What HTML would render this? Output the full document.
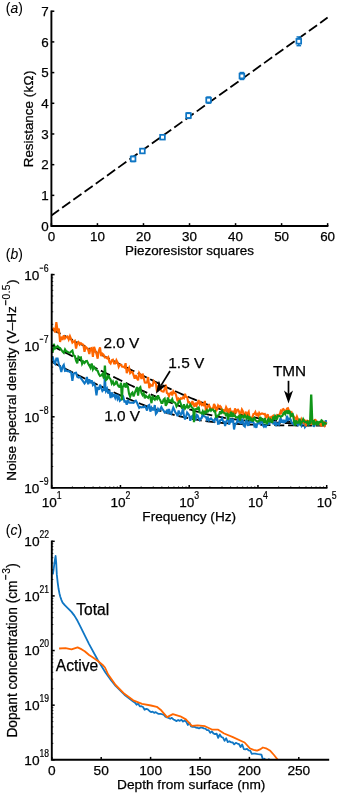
<!DOCTYPE html>
<html><head><meta charset="utf-8"><title>Figure</title>
<style>
html,body{margin:0;padding:0;background:#fff;}
svg{display:block;}
text{font-family:"Liberation Sans",sans-serif;fill:#000;stroke:#000;stroke-width:0.25px;}
svg{will-change:transform;}
</style></head><body>
<svg width="340" height="793" viewBox="0 0 340 793">
<rect width="340" height="793" fill="#fff"/>
<line x1="51.4" y1="215.5" x2="327.6" y2="17.6" stroke="#000" stroke-width="1.8" stroke-dasharray="10 3.8" stroke-dashoffset="0.6"/>
<line x1="133.1" y1="156.25" x2="133.1" y2="161.55" stroke="#0f76c4" stroke-width="1.5"/>
<line x1="130.79999999999998" y1="156.25" x2="135.4" y2="156.25" stroke="#0f76c4" stroke-width="1.5"/>
<line x1="130.79999999999998" y1="161.55" x2="135.4" y2="161.55" stroke="#0f76c4" stroke-width="1.5"/>
<rect x="130.75" y="156.55" width="4.7" height="4.7" fill="#fff" stroke="#0f76c4" stroke-width="1.75"/>
<rect x="140.05" y="148.65" width="4.7" height="4.7" fill="#fff" stroke="#0f76c4" stroke-width="1.75"/>
<rect x="160.15" y="134.85" width="4.7" height="4.7" fill="#fff" stroke="#0f76c4" stroke-width="1.75"/>
<line x1="188.5" y1="112.85" x2="188.5" y2="118.35" stroke="#0f76c4" stroke-width="1.5"/>
<line x1="186.2" y1="112.85" x2="190.8" y2="112.85" stroke="#0f76c4" stroke-width="1.5"/>
<line x1="186.2" y1="118.35" x2="190.8" y2="118.35" stroke="#0f76c4" stroke-width="1.5"/>
<rect x="186.15" y="113.25" width="4.7" height="4.7" fill="#fff" stroke="#0f76c4" stroke-width="1.75"/>
<line x1="208.6" y1="97.05" x2="208.6" y2="103.15" stroke="#0f76c4" stroke-width="1.5"/>
<line x1="206.29999999999998" y1="97.05" x2="210.9" y2="97.05" stroke="#0f76c4" stroke-width="1.5"/>
<line x1="206.29999999999998" y1="103.15" x2="210.9" y2="103.15" stroke="#0f76c4" stroke-width="1.5"/>
<rect x="206.25" y="97.75" width="4.7" height="4.7" fill="#fff" stroke="#0f76c4" stroke-width="1.75"/>
<line x1="241.9" y1="72.55" x2="241.9" y2="79.45" stroke="#0f76c4" stroke-width="1.5"/>
<line x1="239.6" y1="72.55" x2="244.20000000000002" y2="72.55" stroke="#0f76c4" stroke-width="1.5"/>
<line x1="239.6" y1="79.45" x2="244.20000000000002" y2="79.45" stroke="#0f76c4" stroke-width="1.5"/>
<rect x="239.55" y="73.65" width="4.7" height="4.7" fill="#fff" stroke="#0f76c4" stroke-width="1.75"/>
<line x1="298.8" y1="36.95" x2="298.8" y2="45.65" stroke="#0f76c4" stroke-width="1.5"/>
<line x1="296.5" y1="36.95" x2="301.1" y2="36.95" stroke="#0f76c4" stroke-width="1.5"/>
<line x1="296.5" y1="45.65" x2="301.1" y2="45.65" stroke="#0f76c4" stroke-width="1.5"/>
<rect x="296.45" y="38.95" width="4.7" height="4.7" fill="#fff" stroke="#0f76c4" stroke-width="1.75"/>
<path d="M51.4 10.47 V226.05 H328.39" fill="none" stroke="#000" stroke-width="1.9"/>
<line x1="51.4" y1="226.05" x2="54.3" y2="226.05" stroke="#000" stroke-width="1.5"/>
<text x="48.80" y="230.85" font-size="13.4" text-anchor="end" >0</text>
<line x1="51.4" y1="195.36" x2="54.3" y2="195.36" stroke="#000" stroke-width="1.5"/>
<text x="48.80" y="200.16" font-size="13.4" text-anchor="end" >1</text>
<line x1="51.4" y1="164.67" x2="54.3" y2="164.67" stroke="#000" stroke-width="1.5"/>
<text x="48.80" y="169.47" font-size="13.4" text-anchor="end" >2</text>
<line x1="51.4" y1="133.98" x2="54.3" y2="133.98" stroke="#000" stroke-width="1.5"/>
<text x="48.80" y="138.78" font-size="13.4" text-anchor="end" >3</text>
<line x1="51.4" y1="103.29" x2="54.3" y2="103.29" stroke="#000" stroke-width="1.5"/>
<text x="48.80" y="108.09" font-size="13.4" text-anchor="end" >4</text>
<line x1="51.4" y1="72.60" x2="54.3" y2="72.60" stroke="#000" stroke-width="1.5"/>
<text x="48.80" y="77.40" font-size="13.4" text-anchor="end" >5</text>
<line x1="51.4" y1="41.91" x2="54.3" y2="41.91" stroke="#000" stroke-width="1.5"/>
<text x="48.80" y="46.71" font-size="13.4" text-anchor="end" >6</text>
<line x1="51.4" y1="11.22" x2="54.3" y2="11.22" stroke="#000" stroke-width="1.5"/>
<text x="48.80" y="16.02" font-size="13.4" text-anchor="end" >7</text>
<line x1="51.40" y1="226.05" x2="51.40" y2="223.15" stroke="#000" stroke-width="1.5"/>
<text x="51.40" y="241.20" font-size="13.4" text-anchor="middle" >0</text>
<line x1="97.44" y1="226.05" x2="97.44" y2="223.15" stroke="#000" stroke-width="1.5"/>
<text x="97.44" y="241.20" font-size="13.4" text-anchor="middle" >10</text>
<line x1="143.48" y1="226.05" x2="143.48" y2="223.15" stroke="#000" stroke-width="1.5"/>
<text x="143.48" y="241.20" font-size="13.4" text-anchor="middle" >20</text>
<line x1="189.52" y1="226.05" x2="189.52" y2="223.15" stroke="#000" stroke-width="1.5"/>
<text x="189.52" y="241.20" font-size="13.4" text-anchor="middle" >30</text>
<line x1="235.56" y1="226.05" x2="235.56" y2="223.15" stroke="#000" stroke-width="1.5"/>
<text x="235.56" y="241.20" font-size="13.4" text-anchor="middle" >40</text>
<line x1="281.60" y1="226.05" x2="281.60" y2="223.15" stroke="#000" stroke-width="1.5"/>
<text x="281.60" y="241.20" font-size="13.4" text-anchor="middle" >50</text>
<line x1="327.64" y1="226.05" x2="327.64" y2="223.15" stroke="#000" stroke-width="1.5"/>
<text x="327.64" y="241.20" font-size="13.4" text-anchor="middle" >60</text>
<text x="189.50" y="254.60" font-size="13.4" text-anchor="middle" >Piezoresistor squares</text>
<text transform="translate(33.30,118.70) rotate(-90)" font-size="13.4" text-anchor="middle">Resistance <tspan letter-spacing="0.4">(k&#937;)</tspan></text>
<text x="5.80" y="13.00" font-size="13.9" text-anchor="start" style="stroke-width:0.08px">(<tspan font-style="italic">a</tspan>)</text>
<polyline points="51.70,329.23 53.99,330.41 56.28,331.59 58.57,332.77 60.86,333.95 63.15,335.13 65.44,336.31 67.73,337.49 70.02,338.67 72.31,339.85 74.60,341.03 76.89,342.21 79.18,343.39 81.47,344.56 83.76,345.74 86.05,346.92 88.34,348.09 90.63,349.27 92.92,350.44 95.21,351.62 97.50,352.79 99.79,353.96 102.08,355.13 104.37,356.30 106.66,357.47 108.95,358.64 111.24,359.80 113.53,360.97 115.82,362.13 118.11,363.29 120.40,364.45 122.69,365.61 124.98,366.77 127.27,367.92 129.56,369.07 131.85,370.22 134.14,371.37 136.43,372.51 138.72,373.65 141.01,374.79 143.30,375.92 145.59,377.05 147.88,378.18 150.17,379.30 152.46,380.41 154.75,381.52 157.04,382.63 159.33,383.73 161.62,384.82 163.91,385.91 166.20,386.99 168.49,388.06 170.78,389.13 173.07,390.18 175.36,391.23 177.65,392.26 179.94,393.29 182.23,394.31 184.52,395.31 186.81,396.30 189.10,397.28 191.39,398.25 193.68,399.20 195.97,400.14 198.26,401.06 200.55,401.97 202.84,402.86 205.13,403.73 207.42,404.59 209.71,405.43 212.00,406.24 214.29,407.04 216.58,407.82 218.87,408.58 221.16,409.31 223.45,410.02 225.74,410.72 228.03,411.39 230.32,412.03 232.61,412.66 234.90,413.26 237.19,413.84 239.48,414.40 241.77,414.93 244.06,415.44 246.35,415.93 248.64,416.40 250.93,416.85 253.22,417.27 255.51,417.68 257.80,418.06 260.09,418.43 262.38,418.77 264.67,419.10 266.96,419.41 269.25,419.70 271.54,419.98 273.83,420.24 276.12,420.48 278.41,420.71 280.70,420.93 282.99,421.13 285.28,421.32 287.57,421.50 289.86,421.67 292.15,421.82 294.44,421.97 296.73,422.11 299.02,422.23 301.31,422.35 303.60,422.46 305.89,422.57 308.18,422.67 310.47,422.76 312.76,422.84 315.05,422.92 317.34,422.99 319.63,423.06 321.92,423.12 324.21,423.18 326.50,423.23" fill="none" stroke="#000" stroke-width="1.8" stroke-dasharray="10 3.8"/>
<polyline points="51.70,345.60 53.99,346.78 56.28,347.96 58.57,349.13 60.86,350.30 63.15,351.48 65.44,352.65 67.73,353.82 70.02,354.99 72.31,356.16 74.60,357.33 76.89,358.50 79.18,359.67 81.47,360.83 83.76,362.00 86.05,363.16 88.34,364.32 90.63,365.48 92.92,366.63 95.21,367.79 97.50,368.94 99.79,370.09 102.08,371.23 104.37,372.38 106.66,373.52 108.95,374.66 111.24,375.79 113.53,376.92 115.82,378.04 118.11,379.17 120.40,380.28 122.69,381.39 124.98,382.50 127.27,383.60 129.56,384.69 131.85,385.78 134.14,386.86 136.43,387.94 138.72,389.00 141.01,390.06 143.30,391.10 145.59,392.14 147.88,393.17 150.17,394.19 152.46,395.19 154.75,396.19 157.04,397.17 159.33,398.14 161.62,399.09 163.91,400.03 166.20,400.96 168.49,401.86 170.78,402.76 173.07,403.63 175.36,404.49 177.65,405.33 179.94,406.15 182.23,406.95 184.52,407.73 186.81,408.49 189.10,409.22 191.39,409.94 193.68,410.64 195.97,411.31 198.26,411.96 200.55,412.59 202.84,413.19 205.13,413.77 207.42,414.33 209.71,414.87 212.00,415.39 214.29,415.88 216.58,416.35 218.87,416.80 221.16,417.22 223.45,417.63 225.74,418.02 228.03,418.39 230.32,418.73 232.61,419.06 234.90,419.37 237.19,419.67 239.48,419.95 241.77,420.21 244.06,420.45 246.35,420.69 248.64,420.90 250.93,421.11 253.22,421.30 255.51,421.48 257.80,421.65 260.09,421.81 262.38,421.95 264.67,422.09 266.96,422.22 269.25,422.34 271.54,422.45 273.83,422.56 276.12,422.65 278.41,422.75 280.70,422.83 282.99,422.91 285.28,422.98 287.57,423.05 289.86,423.11 292.15,423.17 294.44,423.23 296.73,423.28 299.02,423.33 301.31,423.37 303.60,423.41 305.89,423.45 308.18,423.48 310.47,423.52 312.76,423.55 315.05,423.58 317.34,423.60 319.63,423.63 321.92,423.65 324.21,423.67 326.50,423.69" fill="none" stroke="#000" stroke-width="1.8" stroke-dasharray="10 3.8"/>
<polyline points="51.70,361.88 53.99,363.05 56.28,364.21 58.57,365.37 60.86,366.53 63.15,367.69 65.44,368.84 67.73,370.00 70.02,371.15 72.31,372.30 74.60,373.44 76.89,374.58 79.18,375.72 81.47,376.86 83.76,377.99 86.05,379.12 88.34,380.24 90.63,381.36 92.92,382.48 95.21,383.59 97.50,384.69 99.79,385.79 102.08,386.88 104.37,387.97 106.66,389.05 108.95,390.12 111.24,391.18 113.53,392.23 115.82,393.28 118.11,394.31 120.40,395.34 122.69,396.35 124.98,397.35 127.27,398.34 129.56,399.32 131.85,400.28 134.14,401.23 136.43,402.17 138.72,403.09 141.01,403.99 143.30,404.87 145.59,405.74 147.88,406.59 150.17,407.43 152.46,408.24 154.75,409.03 157.04,409.81 159.33,410.56 161.62,411.29 163.91,412.00 166.20,412.69 168.49,413.35 170.78,413.99 173.07,414.61 175.36,415.21 177.65,415.79 179.94,416.34 182.23,416.87 184.52,417.37 186.81,417.86 189.10,418.32 191.39,418.76 193.68,419.18 195.97,419.58 198.26,419.96 200.55,420.32 202.84,420.67 205.13,420.99 207.42,421.29 209.71,421.58 212.00,421.86 214.29,422.11 216.58,422.35 218.87,422.58 221.16,422.79 223.45,422.99 225.74,423.18 228.03,423.36 230.32,423.52 232.61,423.68 234.90,423.82 237.19,423.95 239.48,424.08 241.77,424.20 244.06,424.31 246.35,424.41 248.64,424.50 250.93,424.59 253.22,424.68 255.51,424.75 257.80,424.82 260.09,424.89 262.38,424.95 264.67,425.01 266.96,425.06 269.25,425.11 271.54,425.16 273.83,425.20 276.12,425.24 278.41,425.28 280.70,425.31 282.99,425.35 285.28,425.38 287.57,425.40 289.86,425.43 292.15,425.45 294.44,425.47 296.73,425.49 299.02,425.51 301.31,425.53 303.60,425.55 305.89,425.56 308.18,425.58 310.47,425.59 312.76,425.60 315.05,425.61 317.34,425.62 319.63,425.63 321.92,425.64 324.21,425.65 326.50,425.66" fill="none" stroke="#000" stroke-width="1.8" stroke-dasharray="10 3.8"/>
<polyline points="52.60,356.51 53.85,361.97 55.10,363.72 56.34,358.47 57.59,358.46 58.83,364.29 60.07,366.86 61.31,371.97 62.55,366.63 63.78,364.84 65.02,370.90 66.25,370.51 67.48,371.27 68.71,371.08 69.93,372.01 71.16,372.38 72.38,380.92 73.60,373.68 74.82,372.99 76.04,372.69 77.26,376.75 78.47,377.56 79.68,376.88 80.89,378.32 82.10,379.90 83.31,381.70 84.51,383.46 85.72,381.71 86.92,376.96 88.12,384.36 89.32,379.30 90.51,383.28 91.71,380.34 92.90,384.86 94.09,383.33 95.28,386.54 96.47,395.31 97.66,386.94 98.84,389.86 100.02,384.67 101.20,387.97 102.38,391.03 103.56,389.58 104.20,389.84 104.75,378.45 105.05,378.45 105.60,389.83 105.91,391.20 107.08,388.85 108.25,393.52 109.42,390.48 110.59,398.03 111.75,392.39 112.92,396.04 114.08,394.82 115.24,397.82 116.40,394.36 117.55,399.03 118.71,396.69 119.86,400.80 121.01,399.70 122.16,399.01 123.31,397.21 124.46,401.70 125.60,401.36 126.75,404.67 127.89,399.88 129.03,402.57 130.17,402.78 131.30,402.54 132.44,402.68 133.57,402.94 134.71,401.32 135.84,400.61 136.96,402.48 138.09,405.26 139.22,407.87 140.34,406.87 141.46,407.38 142.58,407.01 143.70,407.14 144.82,406.20 145.93,407.89 147.05,410.57 148.16,405.66 149.27,405.01 150.38,411.70 151.49,407.76 152.59,409.75 153.69,409.74 154.80,405.12 155.90,413.95 157.00,412.59 158.09,408.97 159.19,410.58 160.29,409.31 161.38,407.13 162.47,409.20 163.56,410.59 164.65,412.57 165.73,411.83 166.82,410.52 167.90,413.80 168.98,409.04 170.06,412.92 171.14,413.89 172.22,410.83 173.29,407.56 174.37,409.85 175.44,412.73 176.51,413.63 177.58,416.21 178.65,410.53 179.71,413.08 180.78,414.79 181.84,413.16 182.90,408.31 183.96,415.81 185.02,419.46 186.08,416.69 187.13,412.54 188.19,413.89 189.24,415.52 190.29,420.84 191.34,416.80 192.38,415.86 193.43,419.30 194.47,415.81 195.52,420.35 196.56,414.85 197.60,415.52 198.64,418.37 199.67,420.12 200.71,418.60 201.74,418.02 202.78,413.52 203.81,416.16 204.84,416.58 205.86,416.95 206.89,419.59 207.91,417.77 208.94,420.41 209.96,419.06 210.98,418.35 212.00,419.51 213.02,420.36 214.03,421.47 215.05,418.77 216.06,419.48 217.07,417.24 218.08,423.78 219.09,423.63 220.10,420.33 221.10,419.84 222.10,418.34 223.11,421.43 224.11,421.61 225.11,425.89 226.11,421.91 227.10,419.86 228.10,416.47 229.09,424.66 230.08,422.21 231.08,418.56 232.06,422.40 233.05,418.79 234.04,429.45 235.02,424.65 236.01,423.63 236.99,422.19 237.97,418.26 238.95,422.50 239.93,419.68 240.90,424.19 241.88,418.67 242.85,421.23 243.83,425.60 244.80,426.50 245.77,420.83 246.73,420.17 247.70,425.09 248.67,425.08 249.63,421.43 250.59,422.07 251.55,422.12 252.51,421.18 253.47,422.24 254.43,426.12 255.38,425.05 256.34,427.80 257.29,423.61 258.24,423.56 259.19,421.94 260.14,423.68 261.09,421.40 262.03,420.53 262.98,425.35 263.92,426.79 264.86,425.61 265.80,426.56 266.74,424.46 267.68,422.58 268.61,424.11 269.55,423.20 270.48,421.75 271.41,420.59 272.34,420.92 273.27,423.64 274.20,423.82 275.13,422.48 276.05,425.89 276.98,423.30 277.90,423.80 278.82,424.70 279.74,420.54 280.66,418.04 281.57,422.76 282.49,419.70 283.40,423.06 284.32,420.92 285.23,421.87 286.14,421.18 287.05,415.77 287.96,420.84 288.86,418.29 289.77,418.42 290.67,419.54 291.57,422.42 292.48,423.34 293.38,424.23 294.27,419.93 295.17,422.28 296.07,419.34 296.96,423.61 297.85,424.98 298.75,422.58 299.64,424.42 300.53,424.40 301.41,425.79 302.30,422.54 303.19,422.53 304.07,422.65 304.95,427.10 305.84,425.92 306.72,423.78 307.59,424.40 308.47,424.20 309.35,424.35 310.22,423.64 311.10,423.42 311.97,421.82 312.84,422.89 313.71,426.85 314.58,424.93 315.45,424.11 316.31,423.63 317.18,424.11 318.04,424.60 318.91,422.90 319.77,424.33 320.63,424.41 321.49,422.73 322.34,422.66 323.20,422.31 324.05,422.21 324.91,425.50 325.76,420.04 326.30,423.55" fill="none" stroke="#0f76c4" stroke-width="2.1" stroke-linejoin="miter" stroke-miterlimit="3"/>
<polyline points="52.60,328.14 53.85,328.82 55.10,332.38 56.34,322.07 57.59,330.62 58.83,328.61 60.07,341.93 61.31,336.68 62.55,340.00 63.78,335.36 65.02,338.47 66.25,337.13 67.48,336.45 68.71,339.50 69.93,336.18 71.16,339.24 72.38,342.71 73.60,341.50 74.82,340.76 76.04,348.47 77.26,343.16 78.47,341.95 79.68,344.54 80.89,343.23 82.10,344.16 83.31,344.80 84.51,351.80 85.72,346.91 86.92,347.87 88.12,349.76 89.32,353.92 90.51,348.46 91.71,347.98 92.90,356.88 94.09,346.94 95.28,350.46 96.47,353.81 97.66,358.70 98.84,350.70 100.02,347.38 101.20,356.15 102.38,353.61 103.56,354.56 104.73,357.38 105.91,357.41 107.08,358.26 108.25,357.04 109.42,362.20 110.59,363.43 111.75,360.27 112.92,359.68 114.08,363.42 115.24,363.42 116.40,360.17 117.55,362.33 118.71,366.88 119.86,364.60 121.01,364.67 122.16,366.71 123.31,366.74 124.46,367.48 125.60,363.23 126.75,373.19 127.89,369.88 129.03,367.79 130.17,373.09 131.30,372.02 132.44,371.91 133.57,375.11 134.71,378.76 135.84,375.10 136.96,378.29 138.09,380.32 139.22,373.04 140.34,374.94 141.46,378.94 142.58,373.60 143.70,377.93 144.82,382.55 145.93,382.71 147.05,382.35 148.16,377.08 149.27,388.22 150.38,384.56 151.49,385.73 152.59,385.72 153.69,381.02 154.80,382.35 155.90,383.53 157.00,391.71 158.09,385.76 159.19,387.81 160.29,388.43 161.38,391.04 162.47,391.51 163.56,391.59 164.65,388.60 165.73,384.65 166.82,392.87 167.90,393.51 168.98,396.18 170.06,393.45 171.14,392.66 172.22,395.45 173.29,391.26 174.37,392.87 175.44,393.35 176.51,396.76 177.58,401.33 178.65,398.65 179.71,399.92 180.78,398.23 181.84,398.72 182.90,397.44 183.96,398.22 185.02,393.72 186.08,396.92 187.13,397.12 188.19,402.28 189.24,402.21 190.29,403.63 191.34,404.89 192.38,401.02 193.43,404.41 194.47,406.76 195.52,402.69 196.56,405.46 197.60,403.00 198.64,400.11 199.67,404.29 200.71,402.54 201.74,404.93 202.78,403.99 203.81,406.05 204.84,400.97 205.86,410.57 206.89,409.30 207.91,405.88 208.94,404.99 209.96,407.30 210.98,409.03 212.00,408.67 213.02,408.80 214.03,403.87 215.05,405.87 216.06,411.37 217.07,409.18 218.08,405.59 219.09,407.17 220.10,406.12 221.10,407.22 222.10,412.09 223.11,409.30 224.11,412.36 225.11,410.55 226.11,407.14 227.10,409.15 228.10,415.59 229.09,409.28 230.08,408.87 231.08,413.90 232.06,411.66 233.05,411.64 234.04,414.94 235.02,408.32 236.01,413.09 236.99,410.19 237.97,409.65 238.95,411.07 239.93,415.36 240.90,412.85 241.88,409.47 242.85,411.11 243.83,416.69 244.80,415.77 245.77,411.52 246.73,418.89 247.70,413.27 248.67,411.69 249.63,418.13 250.59,419.34 251.55,417.79 252.51,416.72 253.47,413.88 254.43,413.73 255.38,412.04 256.34,414.96 257.29,414.03 258.24,415.84 259.19,412.93 260.14,414.55 261.09,413.94 262.03,413.44 262.98,413.65 263.92,414.14 264.86,413.98 265.80,417.61 266.74,416.83 267.68,414.16 268.61,417.89 269.55,417.55 270.48,419.91 271.41,416.70 272.34,416.66 273.27,415.65 274.20,417.08 275.13,417.52 276.05,416.55 276.98,415.27 277.90,416.30 278.82,414.75 279.74,414.33 280.66,411.29 281.57,412.66 282.49,409.54 283.40,409.04 284.32,410.22 285.23,413.29 286.14,410.71 287.05,408.53 287.96,408.08 288.86,410.42 289.77,411.99 290.67,413.16 291.57,412.39 292.48,415.05 293.38,415.90 294.27,417.49 295.17,417.60 296.07,419.55 296.96,416.61 297.85,418.75 298.75,421.99 299.64,419.70 300.53,422.50 301.41,419.23 302.30,420.97 303.19,422.42 304.07,419.88 304.95,420.53 305.84,426.34 306.72,420.71 307.59,420.72 308.47,421.02 309.35,422.16 310.22,422.11 311.10,423.97 311.97,423.68 312.84,421.61 313.71,421.76 314.58,419.94 315.45,419.86 316.31,421.26 317.18,423.89 318.04,422.88 318.91,424.12 319.77,424.42 320.63,422.55 321.49,426.53 322.34,422.04 323.20,421.92 324.05,422.31 324.91,425.07 325.76,422.93 326.30,421.93" fill="none" stroke="#ff6600" stroke-width="2.1" stroke-linejoin="miter" stroke-miterlimit="3"/>
<polyline points="52.60,352.69 53.85,343.85 55.10,348.43 56.34,347.27 57.59,346.02 58.83,347.39 60.07,348.04 61.31,349.73 62.55,351.59 63.78,352.79 65.02,349.36 66.25,351.35 67.48,351.63 68.71,352.77 69.93,352.75 71.16,351.45 72.38,350.56 73.60,355.49 74.82,356.03 76.04,360.76 77.26,363.33 78.47,356.75 79.68,357.71 80.89,357.40 82.10,363.91 83.31,361.68 84.51,363.09 85.72,361.12 86.92,360.92 88.12,363.54 89.32,365.61 90.51,367.92 91.71,363.54 92.90,369.32 94.09,367.05 95.28,368.81 96.47,370.19 97.66,370.80 98.84,374.00 100.02,375.96 101.20,375.42 102.38,373.99 103.56,377.35 104.20,376.59 104.75,366.43 105.05,366.43 105.60,377.17 105.91,380.07 107.08,379.21 108.25,375.02 109.42,377.91 110.59,379.50 111.75,383.56 112.92,381.52 114.08,384.86 115.24,383.95 116.40,380.85 117.55,384.65 118.71,386.60 119.86,386.89 121.01,382.79 121.20,386.96 121.75,399.22 122.05,399.22 122.60,386.84 123.31,386.38 124.46,383.22 125.60,387.61 126.75,384.51 127.89,386.66 129.03,393.82 130.17,396.75 131.30,393.66 132.44,392.50 133.57,396.51 134.71,393.06 135.84,390.21 136.96,386.99 138.09,395.63 139.22,388.29 140.34,387.21 141.46,392.99 142.58,395.14 143.70,393.28 144.82,398.29 145.93,395.87 147.05,396.90 148.16,397.78 149.27,395.60 150.38,397.82 151.49,403.22 152.59,395.68 153.69,398.63 154.80,399.80 155.90,397.55 157.00,399.03 158.09,395.37 159.19,398.72 160.29,400.16 161.38,403.00 162.47,402.90 163.56,399.60 164.65,398.65 165.73,405.84 166.82,403.87 167.90,397.55 168.98,401.48 170.06,400.41 171.14,401.35 172.22,399.02 173.29,402.28 174.37,402.31 175.44,403.20 176.51,406.40 177.58,404.76 178.65,401.68 179.71,400.74 180.78,403.76 181.84,407.85 182.90,407.61 183.96,404.36 185.02,408.59 186.08,407.17 187.13,405.06 188.19,407.68 189.24,406.79 190.29,404.72 191.34,406.53 192.38,408.14 193.30,408.49 193.85,421.28 194.15,421.28 194.70,409.90 195.52,409.11 196.56,408.89 197.60,409.00 198.64,406.66 199.67,412.43 200.71,412.72 201.74,413.56 202.78,411.24 203.81,413.65 204.84,411.76 205.86,412.95 206.89,410.21 207.91,411.61 208.94,410.59 209.96,409.18 210.98,410.71 212.00,409.40 213.02,409.60 214.03,411.35 215.05,411.07 216.06,417.00 217.07,416.54 218.08,415.23 219.09,414.78 220.10,411.42 221.10,414.02 222.10,410.52 223.11,412.43 224.11,412.91 225.11,413.32 226.11,416.09 227.10,412.77 228.10,419.68 229.09,413.69 230.08,416.72 231.08,411.79 232.06,417.17 233.05,412.86 234.04,416.01 235.02,415.75 236.01,417.63 236.99,417.35 237.97,417.06 238.95,416.11 239.93,420.61 240.90,415.80 241.88,416.89 242.85,416.01 243.83,417.36 244.80,415.23 245.77,416.46 246.73,418.44 247.70,416.35 248.67,418.57 249.63,416.57 250.59,420.72 251.55,417.70 252.51,421.60 253.47,419.18 254.43,418.03 255.38,420.30 256.34,420.83 257.29,421.65 258.24,421.49 259.19,420.61 260.14,416.64 261.09,420.89 262.03,418.99 262.98,420.02 263.92,421.77 264.86,417.96 265.80,422.01 266.74,424.13 267.68,420.59 268.61,418.94 269.55,422.22 270.48,419.91 271.41,421.55 272.34,421.86 273.27,416.45 274.20,419.80 275.13,416.05 276.05,417.33 276.98,419.47 277.90,415.62 278.82,416.03 279.74,415.97 280.66,416.82 281.57,416.26 282.49,415.80 283.40,413.41 284.32,412.39 285.23,414.08 286.14,411.32 287.05,411.19 287.96,413.89 288.86,411.21 289.77,411.60 290.67,416.41 291.57,415.60 292.48,413.02 293.38,417.05 294.27,423.08 295.17,425.52 296.07,420.40 296.96,422.61 297.85,422.93 298.75,422.33 299.64,418.60 300.53,423.75 301.41,422.51 302.30,421.64 303.19,419.23 304.07,421.04 304.95,422.02 305.84,421.82 306.72,422.72 307.59,421.69 308.47,424.18 309.35,422.61 310.00,422.87 311.05,395.64 311.35,395.64 312.40,423.61 312.84,420.18 313.71,425.15 314.58,421.83 315.45,423.24 316.31,423.91 317.18,420.96 318.04,425.11 318.91,422.65 319.77,421.84 320.63,421.92 321.49,420.27 322.34,420.89 323.20,425.79 324.05,423.08 324.91,422.87 325.76,423.73 326.30,424.40" fill="none" stroke="#109618" stroke-width="2.1" stroke-linejoin="miter" stroke-miterlimit="3"/>
<path d="M51.7 273.85 V487.9 H327.45" fill="none" stroke="#000" stroke-width="1.9"/>
<line x1="51.7" y1="274.60" x2="54.6" y2="274.60" stroke="#000" stroke-width="1.5"/>
<text x="24.22" y="279.50" font-size="13.6" text-anchor="start" >10</text>
<rect x="39.64" y="267.65" width="3.6" height="1.05" fill="#000"/>
<text transform="translate(43.74,271.60) scale(0.84,1)" font-size="10.4" text-anchor="start" style="stroke-width:0.22px">6</text>
<line x1="51.7" y1="324.30" x2="53.25" y2="324.30" stroke="#000" stroke-width="0.8"/>
<line x1="51.7" y1="311.78" x2="53.25" y2="311.78" stroke="#000" stroke-width="0.8"/>
<line x1="51.7" y1="302.89" x2="53.25" y2="302.89" stroke="#000" stroke-width="0.8"/>
<line x1="51.7" y1="296.00" x2="53.25" y2="296.00" stroke="#000" stroke-width="0.8"/>
<line x1="51.7" y1="290.37" x2="53.25" y2="290.37" stroke="#000" stroke-width="0.8"/>
<line x1="51.7" y1="285.61" x2="53.25" y2="285.61" stroke="#000" stroke-width="0.8"/>
<line x1="51.7" y1="281.49" x2="53.25" y2="281.49" stroke="#000" stroke-width="0.8"/>
<line x1="51.7" y1="277.85" x2="53.25" y2="277.85" stroke="#000" stroke-width="0.8"/>
<line x1="51.7" y1="345.70" x2="54.6" y2="345.70" stroke="#000" stroke-width="1.5"/>
<text x="24.22" y="350.60" font-size="13.6" text-anchor="start" >10</text>
<rect x="39.64" y="338.75" width="3.6" height="1.05" fill="#000"/>
<text transform="translate(43.74,342.70) scale(0.84,1)" font-size="10.4" text-anchor="start" style="stroke-width:0.22px">7</text>
<line x1="51.7" y1="395.40" x2="53.25" y2="395.40" stroke="#000" stroke-width="0.8"/>
<line x1="51.7" y1="382.88" x2="53.25" y2="382.88" stroke="#000" stroke-width="0.8"/>
<line x1="51.7" y1="373.99" x2="53.25" y2="373.99" stroke="#000" stroke-width="0.8"/>
<line x1="51.7" y1="367.10" x2="53.25" y2="367.10" stroke="#000" stroke-width="0.8"/>
<line x1="51.7" y1="361.47" x2="53.25" y2="361.47" stroke="#000" stroke-width="0.8"/>
<line x1="51.7" y1="356.71" x2="53.25" y2="356.71" stroke="#000" stroke-width="0.8"/>
<line x1="51.7" y1="352.59" x2="53.25" y2="352.59" stroke="#000" stroke-width="0.8"/>
<line x1="51.7" y1="348.95" x2="53.25" y2="348.95" stroke="#000" stroke-width="0.8"/>
<line x1="51.7" y1="416.80" x2="54.6" y2="416.80" stroke="#000" stroke-width="1.5"/>
<text x="24.22" y="421.70" font-size="13.6" text-anchor="start" >10</text>
<rect x="39.64" y="409.85" width="3.6" height="1.05" fill="#000"/>
<text transform="translate(43.74,413.80) scale(0.84,1)" font-size="10.4" text-anchor="start" style="stroke-width:0.22px">8</text>
<line x1="51.7" y1="466.50" x2="53.25" y2="466.50" stroke="#000" stroke-width="0.8"/>
<line x1="51.7" y1="453.98" x2="53.25" y2="453.98" stroke="#000" stroke-width="0.8"/>
<line x1="51.7" y1="445.09" x2="53.25" y2="445.09" stroke="#000" stroke-width="0.8"/>
<line x1="51.7" y1="438.20" x2="53.25" y2="438.20" stroke="#000" stroke-width="0.8"/>
<line x1="51.7" y1="432.57" x2="53.25" y2="432.57" stroke="#000" stroke-width="0.8"/>
<line x1="51.7" y1="427.81" x2="53.25" y2="427.81" stroke="#000" stroke-width="0.8"/>
<line x1="51.7" y1="423.69" x2="53.25" y2="423.69" stroke="#000" stroke-width="0.8"/>
<line x1="51.7" y1="420.05" x2="53.25" y2="420.05" stroke="#000" stroke-width="0.8"/>
<line x1="51.7" y1="487.90" x2="54.6" y2="487.90" stroke="#000" stroke-width="1.5"/>
<text x="24.22" y="492.80" font-size="13.6" text-anchor="start" >10</text>
<rect x="39.64" y="480.95" width="3.6" height="1.05" fill="#000"/>
<text transform="translate(43.74,484.90) scale(0.84,1)" font-size="10.4" text-anchor="start" style="stroke-width:0.22px">9</text>
<line x1="51.70" y1="487.9" x2="51.70" y2="485.0" stroke="#000" stroke-width="1.5"/>
<text x="41.76" y="507.30" font-size="13.6" text-anchor="start" >10</text>
<text transform="translate(56.78,499.40) scale(0.84,1)" font-size="10.4" text-anchor="start" style="stroke-width:0.22px">1</text>
<line x1="72.40" y1="487.9" x2="72.40" y2="486.34999999999997" stroke="#000" stroke-width="0.8"/>
<line x1="84.50" y1="487.9" x2="84.50" y2="486.34999999999997" stroke="#000" stroke-width="0.8"/>
<line x1="93.09" y1="487.9" x2="93.09" y2="486.34999999999997" stroke="#000" stroke-width="0.8"/>
<line x1="99.75" y1="487.9" x2="99.75" y2="486.34999999999997" stroke="#000" stroke-width="0.8"/>
<line x1="105.20" y1="487.9" x2="105.20" y2="486.34999999999997" stroke="#000" stroke-width="0.8"/>
<line x1="109.80" y1="487.9" x2="109.80" y2="486.34999999999997" stroke="#000" stroke-width="0.8"/>
<line x1="113.79" y1="487.9" x2="113.79" y2="486.34999999999997" stroke="#000" stroke-width="0.8"/>
<line x1="117.30" y1="487.9" x2="117.30" y2="486.34999999999997" stroke="#000" stroke-width="0.8"/>
<line x1="120.45" y1="487.9" x2="120.45" y2="485.0" stroke="#000" stroke-width="1.5"/>
<text x="110.51" y="507.30" font-size="13.6" text-anchor="start" >10</text>
<text transform="translate(125.53,499.40) scale(0.84,1)" font-size="10.4" text-anchor="start" style="stroke-width:0.22px">2</text>
<line x1="141.15" y1="487.9" x2="141.15" y2="486.34999999999997" stroke="#000" stroke-width="0.8"/>
<line x1="153.25" y1="487.9" x2="153.25" y2="486.34999999999997" stroke="#000" stroke-width="0.8"/>
<line x1="161.84" y1="487.9" x2="161.84" y2="486.34999999999997" stroke="#000" stroke-width="0.8"/>
<line x1="168.50" y1="487.9" x2="168.50" y2="486.34999999999997" stroke="#000" stroke-width="0.8"/>
<line x1="173.95" y1="487.9" x2="173.95" y2="486.34999999999997" stroke="#000" stroke-width="0.8"/>
<line x1="178.55" y1="487.9" x2="178.55" y2="486.34999999999997" stroke="#000" stroke-width="0.8"/>
<line x1="182.54" y1="487.9" x2="182.54" y2="486.34999999999997" stroke="#000" stroke-width="0.8"/>
<line x1="186.05" y1="487.9" x2="186.05" y2="486.34999999999997" stroke="#000" stroke-width="0.8"/>
<line x1="189.20" y1="487.9" x2="189.20" y2="485.0" stroke="#000" stroke-width="1.5"/>
<text x="179.26" y="507.30" font-size="13.6" text-anchor="start" >10</text>
<text transform="translate(194.28,499.40) scale(0.84,1)" font-size="10.4" text-anchor="start" style="stroke-width:0.22px">3</text>
<line x1="209.90" y1="487.9" x2="209.90" y2="486.34999999999997" stroke="#000" stroke-width="0.8"/>
<line x1="222.00" y1="487.9" x2="222.00" y2="486.34999999999997" stroke="#000" stroke-width="0.8"/>
<line x1="230.59" y1="487.9" x2="230.59" y2="486.34999999999997" stroke="#000" stroke-width="0.8"/>
<line x1="237.25" y1="487.9" x2="237.25" y2="486.34999999999997" stroke="#000" stroke-width="0.8"/>
<line x1="242.70" y1="487.9" x2="242.70" y2="486.34999999999997" stroke="#000" stroke-width="0.8"/>
<line x1="247.30" y1="487.9" x2="247.30" y2="486.34999999999997" stroke="#000" stroke-width="0.8"/>
<line x1="251.29" y1="487.9" x2="251.29" y2="486.34999999999997" stroke="#000" stroke-width="0.8"/>
<line x1="254.80" y1="487.9" x2="254.80" y2="486.34999999999997" stroke="#000" stroke-width="0.8"/>
<line x1="257.95" y1="487.9" x2="257.95" y2="485.0" stroke="#000" stroke-width="1.5"/>
<text x="248.01" y="507.30" font-size="13.6" text-anchor="start" >10</text>
<text transform="translate(263.03,499.40) scale(0.84,1)" font-size="10.4" text-anchor="start" style="stroke-width:0.22px">4</text>
<line x1="278.65" y1="487.9" x2="278.65" y2="486.34999999999997" stroke="#000" stroke-width="0.8"/>
<line x1="290.75" y1="487.9" x2="290.75" y2="486.34999999999997" stroke="#000" stroke-width="0.8"/>
<line x1="299.34" y1="487.9" x2="299.34" y2="486.34999999999997" stroke="#000" stroke-width="0.8"/>
<line x1="306.00" y1="487.9" x2="306.00" y2="486.34999999999997" stroke="#000" stroke-width="0.8"/>
<line x1="311.45" y1="487.9" x2="311.45" y2="486.34999999999997" stroke="#000" stroke-width="0.8"/>
<line x1="316.05" y1="487.9" x2="316.05" y2="486.34999999999997" stroke="#000" stroke-width="0.8"/>
<line x1="320.04" y1="487.9" x2="320.04" y2="486.34999999999997" stroke="#000" stroke-width="0.8"/>
<line x1="323.55" y1="487.9" x2="323.55" y2="486.34999999999997" stroke="#000" stroke-width="0.8"/>
<line x1="326.70" y1="487.9" x2="326.70" y2="485.0" stroke="#000" stroke-width="1.5"/>
<text x="316.76" y="507.30" font-size="13.6" text-anchor="start" >10</text>
<text transform="translate(331.78,499.40) scale(0.84,1)" font-size="10.4" text-anchor="start" style="stroke-width:0.22px">5</text>
<text x="189.20" y="521.20" font-size="13.6" text-anchor="middle" >Frequency (Hz)</text>
<text transform="translate(16.30,380.10) rotate(-90)" font-size="13.6" text-anchor="middle">Noise spectral density (V&#8211;Hz<tspan stroke-width="0.45" font-size="9.27" dy="-7.60" dx="0.6">&#8722;</tspan><tspan stroke-width="0.12" font-size="10.3" dy="1.2" dx="0.6" letter-spacing="0.3">0.5</tspan><tspan dy="6.4" dx="0.2">)</tspan></text>
<text x="5.80" y="259.30" font-size="13.9" text-anchor="start" style="stroke-width:0.08px">(<tspan font-style="italic">b</tspan>)</text>
<text x="103.40" y="347.60" font-size="15.4" text-anchor="start" >2.0 V</text>
<text x="168.30" y="367.50" font-size="15.4" text-anchor="start" >1.5 V</text>
<text x="104.20" y="421.20" font-size="15.4" text-anchor="start" >1.0 V</text>
<text x="273.00" y="375.90" font-size="15.3" text-anchor="start" >TMN</text>
<line x1="170.00" y1="371.00" x2="160.95" y2="385.64" stroke="#000" stroke-width="1.7"/>
<path d="M155.90 393.80 L158.91 380.38 L160.95 385.64 L166.56 385.11 Z" fill="#000"/>
<line x1="288.50" y1="380.80" x2="288.50" y2="393.90" stroke="#000" stroke-width="1.7"/>
<path d="M288.50 403.50 L284.00 390.50 L288.50 393.90 L293.00 390.50 Z" fill="#000"/>
<clipPath id="cc"><rect x="51.8" y="536.3" width="280" height="223.70"/></clipPath>
<g clip-path="url(#cc)"><polyline points="52.90,574.40 54.20,565.00 55.00,559.50 55.60,556.00 56.20,562.60 56.80,574.40 57.70,582.60 58.50,588.50 59.40,593.20 60.30,596.80 61.50,600.10 62.60,602.60 65.00,605.40 68.50,608.80 71.50,611.90 74.40,615.60 77.50,620.80 80.30,626.30 84.50,634.80 89.10,644.10 97.90,660.30 105.30,672.30 111.20,680.50 115.60,685.90 124.40,694.70 133.20,701.50 135.00,702.67 136.60,704.74 138.20,703.63 139.80,706.42 141.40,706.19 143.00,707.01 144.60,709.80 146.20,708.88 147.80,709.43 149.40,710.90 151.00,712.01 152.60,711.60 154.20,712.88 155.80,712.09 157.40,713.36 159.00,713.98 160.60,713.79 162.20,714.26 163.80,714.79 165.40,716.74 167.00,717.44 168.60,717.92 170.20,718.72 171.80,717.82 173.40,719.45 175.00,720.18 176.60,721.10 178.20,720.01 179.80,720.87 181.40,719.77 183.00,721.64 184.60,720.46 186.20,721.71 187.80,724.96 189.40,722.68 191.00,726.38 192.60,726.79 194.20,726.61 195.80,727.52 197.40,727.76 199.00,728.42 200.60,727.38 202.20,727.69 203.80,728.33 205.40,728.63 207.00,730.18 208.60,730.13 210.20,732.85 211.80,731.33 213.40,733.34 215.00,734.18 216.60,733.62 218.20,737.93 219.80,734.36 221.40,736.95 223.00,737.69 224.60,740.72 226.20,738.23 227.80,742.10 229.40,741.15 231.00,742.31 232.60,742.44 234.20,744.30 235.80,742.79 237.40,743.54 239.00,744.02 240.60,746.95 242.20,744.43 243.80,749.06 245.40,749.32 247.00,748.77 248.60,750.33 250.20,750.55 251.80,753.81 253.40,753.70 255.00,753.64 256.60,753.98 258.20,754.17 259.80,754.28 261.40,754.64 263.00,759.68 264.60,758.74 265.30,762.00" fill="none" stroke="#0f76c4" stroke-width="1.8" stroke-linejoin="round"/>
<circle cx="268.9" cy="759.2" r="0.9" fill="#0f76c4"/>
<polyline points="59.10,648.50 65.60,648.20 71.50,649.40 77.60,647.40 81.80,649.40 84.70,651.20 89.10,655.00 92.60,657.30 97.90,661.00 102.40,664.70 105.00,667.50 108.20,674.50 115.60,685.00 124.40,693.80 133.20,700.30 142.10,703.80 150.90,705.50 156.80,706.80 161.20,710.30 167.10,717.10 172.90,714.10 180.30,716.30 185.90,719.40 191.80,725.90 197.60,725.30 205.00,726.20 212.40,729.70 218.20,729.70 224.10,733.50 232.90,737.10 241.80,741.20 244.60,742.50 249.70,748.20 253.50,749.90 257.10,750.60 260.00,749.40 262.90,747.50 266.00,748.30 270.30,750.80 274.00,755.00 277.80,759.80 279.20,762.00" fill="none" stroke="#ff6600" stroke-width="1.8" stroke-linejoin="round"/></g>
<path d="M51.8 540.55 V759.8 H329.19" fill="none" stroke="#000" stroke-width="1.9"/>
<line x1="51.8" y1="541.30" x2="54.699999999999996" y2="541.30" stroke="#000" stroke-width="1.5"/>
<text x="24.34" y="546.00" font-size="13.7" text-anchor="start" >10</text>
<text transform="translate(39.47,538.10) scale(0.84,1)" font-size="10.2" text-anchor="start" style="stroke-width:0.22px">22</text>
<line x1="51.8" y1="579.48" x2="53.349999999999994" y2="579.48" stroke="#000" stroke-width="0.8"/>
<line x1="51.8" y1="569.86" x2="53.349999999999994" y2="569.86" stroke="#000" stroke-width="0.8"/>
<line x1="51.8" y1="563.04" x2="53.349999999999994" y2="563.04" stroke="#000" stroke-width="0.8"/>
<line x1="51.8" y1="557.74" x2="53.349999999999994" y2="557.74" stroke="#000" stroke-width="0.8"/>
<line x1="51.8" y1="553.42" x2="53.349999999999994" y2="553.42" stroke="#000" stroke-width="0.8"/>
<line x1="51.8" y1="549.76" x2="53.349999999999994" y2="549.76" stroke="#000" stroke-width="0.8"/>
<line x1="51.8" y1="546.59" x2="53.349999999999994" y2="546.59" stroke="#000" stroke-width="0.8"/>
<line x1="51.8" y1="543.80" x2="53.349999999999994" y2="543.80" stroke="#000" stroke-width="0.8"/>
<line x1="51.8" y1="595.92" x2="54.699999999999996" y2="595.92" stroke="#000" stroke-width="1.5"/>
<text x="24.34" y="600.62" font-size="13.7" text-anchor="start" >10</text>
<text transform="translate(39.47,592.73) scale(0.84,1)" font-size="10.2" text-anchor="start" style="stroke-width:0.22px">21</text>
<line x1="51.8" y1="634.11" x2="53.349999999999994" y2="634.11" stroke="#000" stroke-width="0.8"/>
<line x1="51.8" y1="624.49" x2="53.349999999999994" y2="624.49" stroke="#000" stroke-width="0.8"/>
<line x1="51.8" y1="617.66" x2="53.349999999999994" y2="617.66" stroke="#000" stroke-width="0.8"/>
<line x1="51.8" y1="612.37" x2="53.349999999999994" y2="612.37" stroke="#000" stroke-width="0.8"/>
<line x1="51.8" y1="608.04" x2="53.349999999999994" y2="608.04" stroke="#000" stroke-width="0.8"/>
<line x1="51.8" y1="604.39" x2="53.349999999999994" y2="604.39" stroke="#000" stroke-width="0.8"/>
<line x1="51.8" y1="601.22" x2="53.349999999999994" y2="601.22" stroke="#000" stroke-width="0.8"/>
<line x1="51.8" y1="598.42" x2="53.349999999999994" y2="598.42" stroke="#000" stroke-width="0.8"/>
<line x1="51.8" y1="650.55" x2="54.699999999999996" y2="650.55" stroke="#000" stroke-width="1.5"/>
<text x="24.34" y="655.25" font-size="13.7" text-anchor="start" >10</text>
<text transform="translate(39.47,647.35) scale(0.84,1)" font-size="10.2" text-anchor="start" style="stroke-width:0.22px">20</text>
<line x1="51.8" y1="688.73" x2="53.349999999999994" y2="688.73" stroke="#000" stroke-width="0.8"/>
<line x1="51.8" y1="679.11" x2="53.349999999999994" y2="679.11" stroke="#000" stroke-width="0.8"/>
<line x1="51.8" y1="672.29" x2="53.349999999999994" y2="672.29" stroke="#000" stroke-width="0.8"/>
<line x1="51.8" y1="666.99" x2="53.349999999999994" y2="666.99" stroke="#000" stroke-width="0.8"/>
<line x1="51.8" y1="662.67" x2="53.349999999999994" y2="662.67" stroke="#000" stroke-width="0.8"/>
<line x1="51.8" y1="659.01" x2="53.349999999999994" y2="659.01" stroke="#000" stroke-width="0.8"/>
<line x1="51.8" y1="655.84" x2="53.349999999999994" y2="655.84" stroke="#000" stroke-width="0.8"/>
<line x1="51.8" y1="653.05" x2="53.349999999999994" y2="653.05" stroke="#000" stroke-width="0.8"/>
<line x1="51.8" y1="705.17" x2="54.699999999999996" y2="705.17" stroke="#000" stroke-width="1.5"/>
<text x="24.34" y="709.88" font-size="13.7" text-anchor="start" >10</text>
<text transform="translate(39.47,701.98) scale(0.84,1)" font-size="10.2" text-anchor="start" style="stroke-width:0.22px">19</text>
<line x1="51.8" y1="743.36" x2="53.349999999999994" y2="743.36" stroke="#000" stroke-width="0.8"/>
<line x1="51.8" y1="733.74" x2="53.349999999999994" y2="733.74" stroke="#000" stroke-width="0.8"/>
<line x1="51.8" y1="726.91" x2="53.349999999999994" y2="726.91" stroke="#000" stroke-width="0.8"/>
<line x1="51.8" y1="721.62" x2="53.349999999999994" y2="721.62" stroke="#000" stroke-width="0.8"/>
<line x1="51.8" y1="717.29" x2="53.349999999999994" y2="717.29" stroke="#000" stroke-width="0.8"/>
<line x1="51.8" y1="713.64" x2="53.349999999999994" y2="713.64" stroke="#000" stroke-width="0.8"/>
<line x1="51.8" y1="710.47" x2="53.349999999999994" y2="710.47" stroke="#000" stroke-width="0.8"/>
<line x1="51.8" y1="707.67" x2="53.349999999999994" y2="707.67" stroke="#000" stroke-width="0.8"/>
<line x1="51.8" y1="759.80" x2="54.699999999999996" y2="759.80" stroke="#000" stroke-width="1.5"/>
<text x="24.34" y="764.50" font-size="13.7" text-anchor="start" >10</text>
<text transform="translate(39.47,756.60) scale(0.84,1)" font-size="10.2" text-anchor="start" style="stroke-width:0.22px">18</text>
<line x1="51.80" y1="759.8" x2="51.80" y2="756.9" stroke="#000" stroke-width="1.5"/>
<text x="51.80" y="775.40" font-size="13.7" text-anchor="middle" >0</text>
<line x1="101.20" y1="759.8" x2="101.20" y2="756.9" stroke="#000" stroke-width="1.5"/>
<text x="101.20" y="775.40" font-size="13.7" text-anchor="middle" >50</text>
<line x1="150.60" y1="759.8" x2="150.60" y2="756.9" stroke="#000" stroke-width="1.5"/>
<text x="150.60" y="775.40" font-size="13.7" text-anchor="middle" >100</text>
<line x1="200.00" y1="759.8" x2="200.00" y2="756.9" stroke="#000" stroke-width="1.5"/>
<text x="200.00" y="775.40" font-size="13.7" text-anchor="middle" >150</text>
<line x1="249.40" y1="759.8" x2="249.40" y2="756.9" stroke="#000" stroke-width="1.5"/>
<text x="249.40" y="775.40" font-size="13.7" text-anchor="middle" >200</text>
<line x1="298.80" y1="759.8" x2="298.80" y2="756.9" stroke="#000" stroke-width="1.5"/>
<text x="298.80" y="775.40" font-size="13.7" text-anchor="middle" >250</text>
<text x="191.20" y="788.90" font-size="13.7" text-anchor="middle" >Depth from surface (nm)</text>
<text transform="translate(17.00,650.30) rotate(-90)" font-size="13.72" text-anchor="middle">Dopant concentration (cm<tspan stroke-width="0.45" font-size="9.27" dy="-8.10" dx="0.6">&#8722;</tspan><tspan stroke-width="0.12" font-size="10.3" dy="1.2" dx="0.6" letter-spacing="0.3">3</tspan><tspan dy="6.9" dx="0.2">)</tspan></text>
<text x="5.80" y="535.00" font-size="13.9" text-anchor="start" style="stroke-width:0.08px">(<tspan font-style="italic">c</tspan>)</text>
<text x="76.30" y="614.80" font-size="15.6" text-anchor="start" >Total</text>
<text x="55.80" y="670.70" font-size="15.6" text-anchor="start" >Active</text>
</svg>
</body></html>
